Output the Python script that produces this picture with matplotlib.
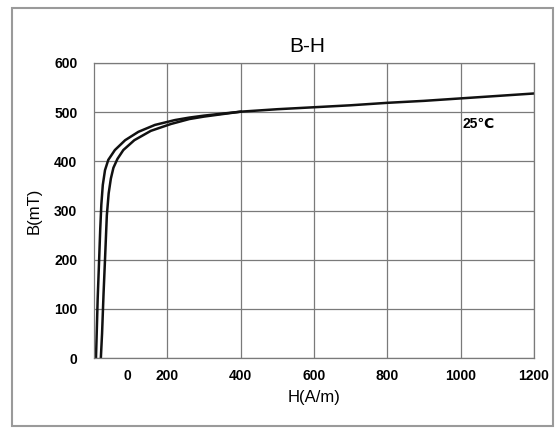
import matplotlib
matplotlib.use('Agg')
import matplotlib.pyplot as plt
from matplotlib.patches import Rectangle

# descending branch (outer curve), H in A/m, B in mT
upper_H = [1200, 1100, 1000, 900, 800, 700, 600, 500, 400, 350, 300, 260,
           221, 166, 121, 85, 57, 39, 30, 24, 20, 17, 14, 10, 7, 5]
upper_B = [538, 533, 528, 523, 519, 514, 510, 506, 501, 497, 493, 489,
           484, 474, 460, 443, 423, 403, 382, 352, 312, 262, 200, 120, 40, -10]

# ascending branch (inner curve)
lower_H = [18, 22, 26, 30, 35, 40, 46, 53, 64, 80, 110, 155, 210, 260, 300, 350, 400]
lower_B = [-10, 50, 130, 200, 290, 335, 365, 387, 405, 423, 443, 462, 476, 486, 491, 496, 501]

x_ticks = [200, 400, 600, 800, 1000, 1200]
y_ticks = [0, 100, 200, 300, 400, 500, 600]
zero_label_pos = 90
temp_label = '25\u2103'

plt.rcParams['font.family'] = ['Liberation Sans', 'DejaVu Sans']

fig = plt.figure(figsize=(5.58, 4.28), dpi=100)
fig.patches.append(Rectangle((12 / 558, 2 / 428), 541 / 558, 418 / 428,
                             transform=fig.transFigure, fill=False,
                             edgecolor='#9a9a9a', linewidth=1.5))

ax = fig.add_axes([94 / 558, 1 - 358 / 428, 440 / 558, 295 / 428])
ax.plot(upper_H, upper_B, color='#111111', linewidth=1.8)
ax.plot(lower_H, lower_B, color='#111111', linewidth=1.8)

ax.set_xlim(0, 1200)
ax.set_ylim(0, 600)
ax.set_xticks(x_ticks)
ax.set_xticks([zero_label_pos], labels=['0'], minor=True)
ax.set_yticks(y_ticks)
ax.grid(True, which='major', color='#7a7a7a', linewidth=0.9)
for s in ax.spines.values():
    s.set_color('#7a7a7a')
    s.set_linewidth(0.9)

ax.tick_params(axis='both', which='both', length=0, labelsize=10)
ax.tick_params(axis='x', which='both', pad=8)
ax.tick_params(axis='y', pad=12)
for lab in ax.get_xticklabels(which='both') + ax.get_yticklabels():
    lab.set_fontweight('bold')

ax.set_title('B-H', x=0.485, fontsize=15, pad=8)
ax.set_xlabel('H(A/m)', fontsize=12, labelpad=5)
ax.set_ylabel('B(mT)', fontsize=12, labelpad=9)
ax.text(1005, 476, temp_label, fontsize=10, fontweight='bold', va='center', ha='left')

fig.savefig('out.png', dpi=100)
